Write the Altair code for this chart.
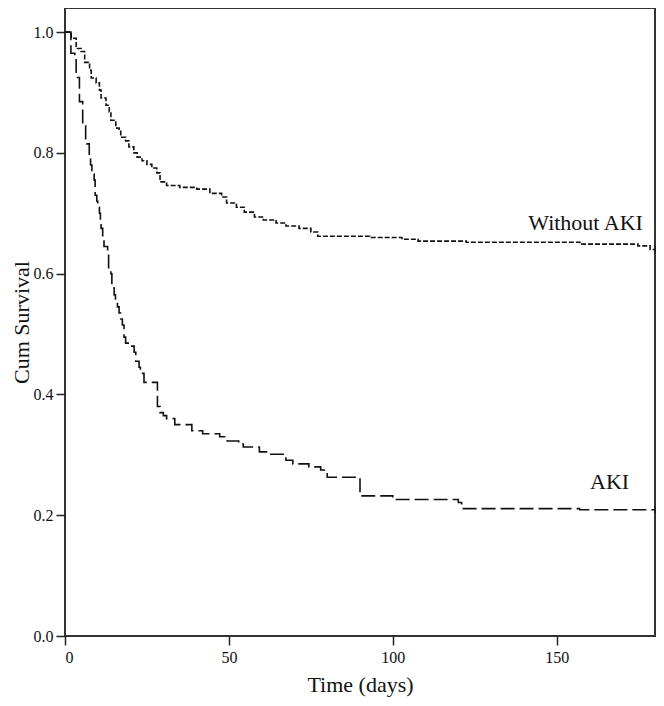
import altair as alt
import pandas as pd

# Without AKI: step times (days) and cumulative survival
noaki_t = [0, 1.9, 3.4, 4.9, 6.0, 7.5, 8.0, 9.5, 10.5, 11.0, 12.5, 13.5, 14.0, 15.5, 16.5, 17.0,
           18.5, 19.5, 21.0, 22.0, 23.5, 25.0, 26.5, 28.0, 29.0, 31.0, 35.0, 40.2, 44.2, 47.8,
           49.3, 52.3, 54.7, 57.8, 60.5, 64.4, 67.4, 71.4, 75.0, 77.1, 93.0, 102.8, 107.7,
           122.4, 157.1, 174.8, 178.5, 180]
noaki_s = [1.0, 0.990, 0.973, 0.968, 0.950, 0.937, 0.924, 0.916, 0.904, 0.891, 0.879, 0.868,
           0.854, 0.841, 0.836, 0.826, 0.820, 0.810, 0.800, 0.793, 0.787, 0.781, 0.775, 0.767,
           0.752, 0.746, 0.743, 0.740, 0.733, 0.727, 0.717, 0.710, 0.702, 0.694, 0.689, 0.684,
           0.679, 0.675, 0.669, 0.662, 0.660, 0.657, 0.654, 0.652, 0.649, 0.646, 0.640, 0.640]

# AKI
aki_t = [0, 1.8, 3.0, 3.4, 4.4, 5.4, 6.3, 6.7, 7.4, 7.8, 8.2, 8.9, 9.2, 9.7, 10.0, 10.5, 10.8,
         11.0, 11.5, 11.9, 13.0, 13.3, 14.0, 14.3, 15.0, 15.4, 16.0, 16.5, 17.0, 17.5, 18.0,
         18.5, 20.0, 21.1, 21.6, 22.6, 23.0, 24.1, 28.2, 29.0, 30.0, 31.0, 33.5, 38.7, 42.0,
         47.2, 49.5, 53.0, 54.4, 59.3, 62.0, 67.4, 69.5, 74.4, 78.0, 80.0, 90.0, 100.0, 120.0,
         121.0, 157.0, 180]
aki_s = [1.0, 0.965, 0.960, 0.925, 0.885, 0.845, 0.820, 0.815, 0.790, 0.780, 0.765, 0.755,
         0.730, 0.720, 0.710, 0.700, 0.685, 0.675, 0.660, 0.645, 0.635, 0.610, 0.600, 0.580,
         0.565, 0.555, 0.545, 0.535, 0.525, 0.515, 0.495, 0.485, 0.480, 0.470, 0.455, 0.445,
         0.435, 0.420, 0.380, 0.370, 0.365, 0.360, 0.350, 0.340, 0.335, 0.330, 0.323, 0.318,
         0.313, 0.305, 0.301, 0.291, 0.285, 0.280, 0.275, 0.263, 0.232, 0.226, 0.221, 0.211,
         0.209, 0.209]

label_text = ["Without AKI", "AKI"]
label_t = [176.3, 172.1]
label_s = [0.684, 0.255]

censor_t = [180, 180]
censor_s = [0.640, 0.209]

FONT = "Liberation Serif"

df_no = pd.DataFrame({"t": noaki_t, "s": noaki_s})
df_aki = pd.DataFrame({"t": aki_t, "s": aki_s})
df_lab = pd.DataFrame({"t": label_t, "s": label_s, "label": label_text})
df_cen = pd.DataFrame({"t": censor_t, "s": censor_s})

xscale = alt.Scale(domain=[0, 180], nice=False, zero=False)
yscale = alt.Scale(domain=[0, 1.04], nice=False)

xenc = alt.X("t:Q", scale=xscale,
             axis=alt.Axis(values=[0, 50, 100, 150], title="Time (days)", grid=False,
                           domain=False, tickSize=9, tickWidth=1.5, tickColor="#222",
                           labelFont=FONT, labelFontSize=16, labelColor="#111",
                           labelPadding=4, titleFont=FONT, titleFontSize=22,
                           titleFontWeight="normal", titleColor="#111", titlePadding=9))
yenc = alt.Y("s:Q", scale=yscale,
             axis=alt.Axis(values=[0, 0.2, 0.4, 0.6, 0.8, 1.0], format=".1f",
                           title="Cum Survival", grid=False, domain=False, tickSize=9,
                           tickWidth=1.5, tickColor="#222", labelFont=FONT, labelFontSize=16,
                           labelColor="#111", labelPadding=3, titleFont=FONT,
                           titleFontSize=22, titleFontWeight="normal", titleColor="#111",
                           titlePadding=0))

line_no = alt.Chart(df_no).mark_line(interpolate="step-after", color="#111",
                                     strokeWidth=1.6, strokeDash=[5, 2]).encode(x=xenc, y=yenc)
line_aki = alt.Chart(df_aki).mark_line(interpolate="step-after", color="#111",
                                       strokeWidth=1.6, strokeDash=[14, 5]).encode(x="t:Q", y="s:Q")
cens = alt.Chart(df_cen).mark_tick(orient="vertical", size=8, thickness=1.3,
                                   color="#111").encode(x="t:Q", y="s:Q")
labels = alt.Chart(df_lab).mark_text(align="right", baseline="middle", font=FONT,
                                     fontSize=22, color="#111").encode(
    x="t:Q", y="s:Q", text="label:N")

chart = alt.layer(line_no, line_aki, cens, labels).properties(
    width=590, height=628,
    background="white",
    autosize=alt.AutoSizeParams(type="none"),
    padding={"left": 57, "top": 0, "right": 1, "bottom": 62},
).configure_view(stroke="#333", strokeWidth=2)

chart.save("out.html", embed_options={"renderer": "svg", "actions": False})
